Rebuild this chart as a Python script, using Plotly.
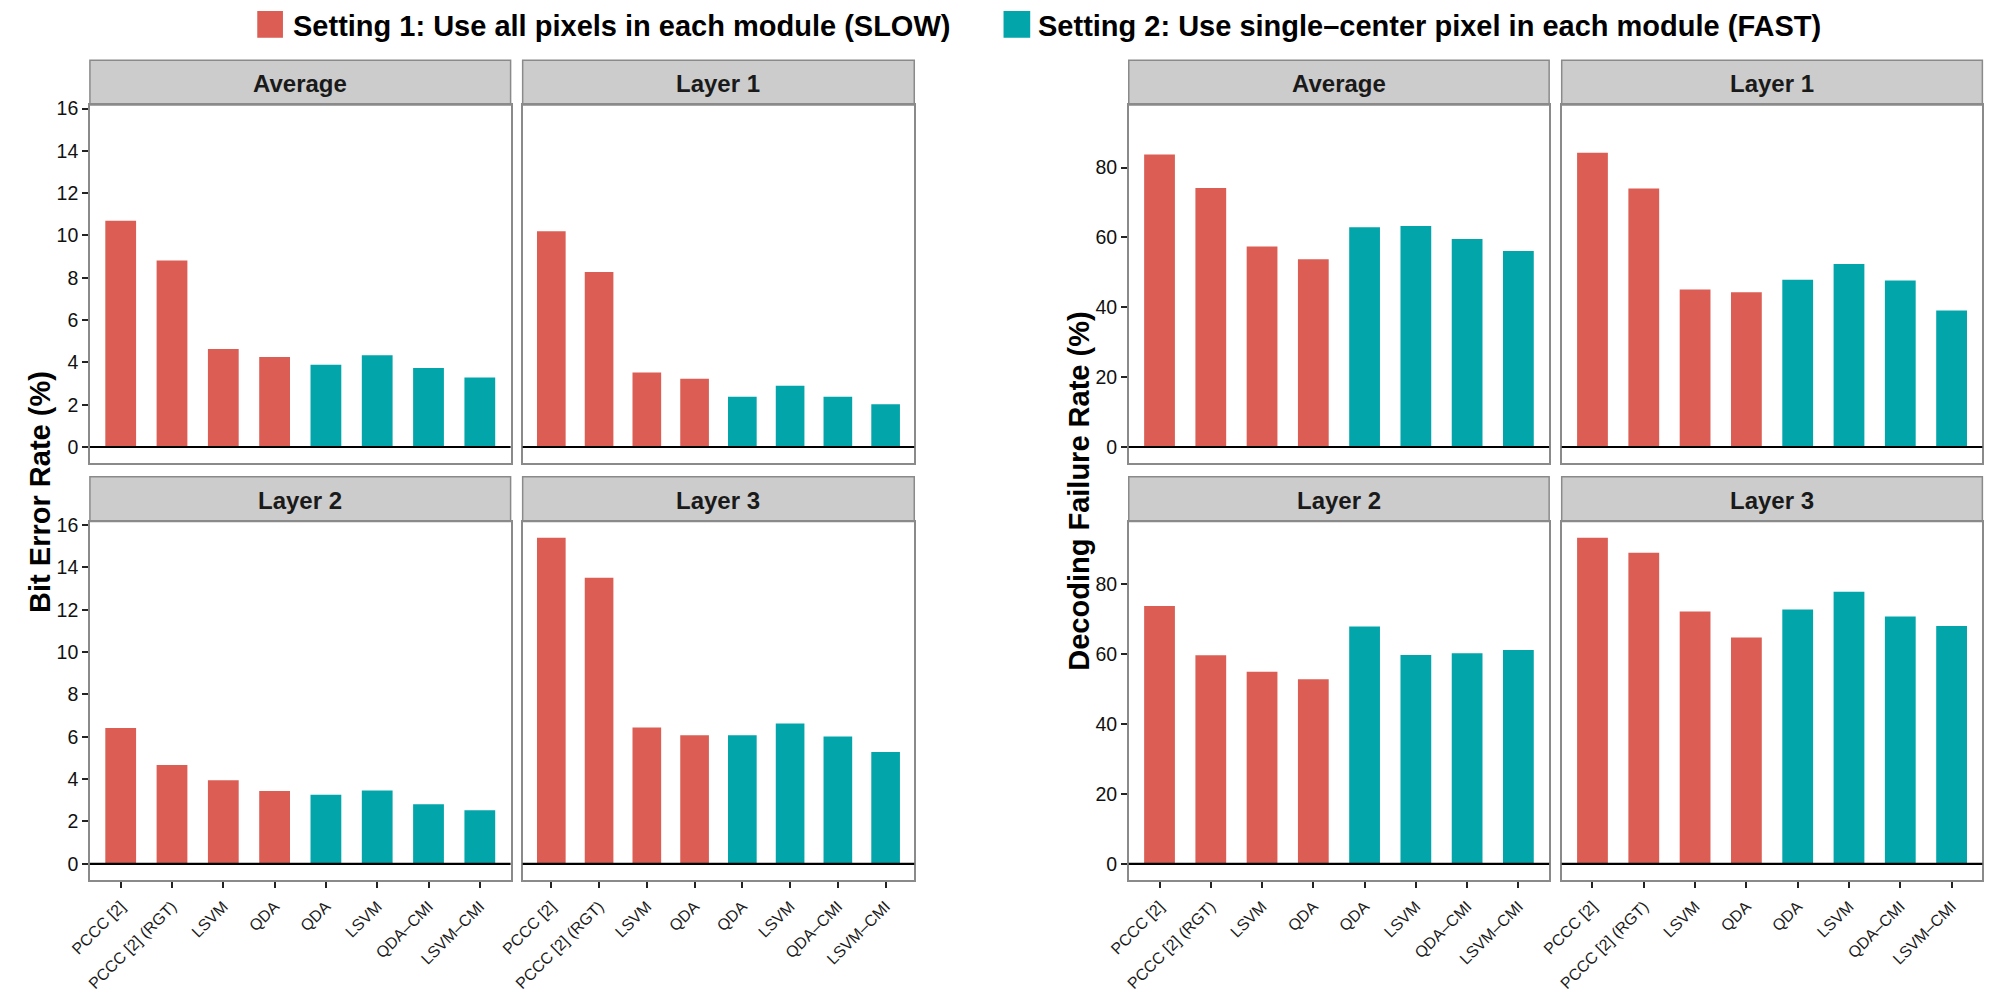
import plotly.graph_objects as go

# ---------------- data ----------------
methods = ["PCCC [2]", "PCCC [2] (RGT)", "LSVM", "QDA", "QDA", "LSVM", "QDA–CMI", "LSVM–CMI"]
positions = [1, 2, 3, 4, 5, 6, 7, 8]
settings = ["Setting 1: Use all pixels in each module (SLOW)",
            "Setting 2: Use single–center pixel in each module (FAST)"]
panel_titles = ["Average", "Layer 1", "Layer 2", "Layer 3"]

ber_average = [10.69, 8.81, 4.63, 4.25, 3.89, 4.34, 3.73, 3.28]
ber_layer1 = [10.20, 8.27, 3.52, 3.23, 2.38, 2.89, 2.38, 2.02]
ber_layer2 = [6.42, 4.67, 3.95, 3.44, 3.26, 3.46, 2.81, 2.53]
ber_layer3 = [15.40, 13.52, 6.44, 6.07, 6.07, 6.63, 6.02, 5.28]

dfr_average = [83.8, 74.2, 57.4, 53.8, 62.9, 63.3, 59.6, 56.1]
dfr_layer1 = [84.3, 74.0, 45.1, 44.3, 47.9, 52.4, 47.7, 39.1]
dfr_layer2 = [73.8, 59.7, 55.0, 52.8, 67.9, 59.8, 60.3, 61.2]
dfr_layer3 = [93.3, 89.0, 72.2, 64.8, 72.8, 77.9, 70.8, 68.1]

ber_ticks = [0, 2, 4, 6, 8, 10, 12, 14, 16]
dfr_ticks = [0, 20, 40, 60, 80]

# ---------------- style / layout ----------------
W, H = 1989, 994
RED = "#DB5D53"
TEAL = "#02A5AA"
BORDER = "#8A8A8A"
STRIP = "#CCCCCC"
FONT = "Liberation Sans, Arial, Helvetica, sans-serif"

cols = [(67.7, 493.3), (505.5, 901.7), (1118.7, 1544.0), (1556.7, 1982.3)]
rows_plot = [(97.7, 459.0), (517.7, 879.2)]
rows_strip = [(52.7, 97.7), (472.5, 517.7)]


def px_x(v):
    return v / W


def px_y(v):
    return 1 - v / H


def expand(vals_lists):
    mx = max(max(v) for v in vals_lists)
    return [-0.05 * mx, mx * 1.05]


ber_range = expand([ber_average, ber_layer1, ber_layer2, ber_layer3])
dfr_range = expand([dfr_average, dfr_layer1, dfr_layer2, dfr_layer3])

# panel: (values, title, col index, row index, yrange, yticks)
panels = [
    (ber_average, panel_titles[0], 0, 0, ber_range, ber_ticks),
    (ber_layer1, panel_titles[1], 1, 0, ber_range, ber_ticks),
    (ber_layer2, panel_titles[2], 0, 1, ber_range, ber_ticks),
    (ber_layer3, panel_titles[3], 1, 1, ber_range, ber_ticks),
    (dfr_average, panel_titles[0], 2, 0, dfr_range, dfr_ticks),
    (dfr_layer1, panel_titles[1], 3, 0, dfr_range, dfr_ticks),
    (dfr_layer2, panel_titles[2], 2, 1, dfr_range, dfr_ticks),
    (dfr_layer3, panel_titles[3], 3, 1, dfr_range, dfr_ticks),
]

fig = go.Figure()
shapes = []
annotations = []
layout_axes = {}

for i, (vals, title, ci, ri, yr, yt) in enumerate(panels, start=1):
    xa = "x" if i == 1 else f"x{i}"
    ya = "y" if i == 1 else f"y{i}"
    fig.add_trace(go.Bar(x=positions[:4], y=vals[:4], xaxis=xa, yaxis=ya,
                         marker=dict(color=RED, line=dict(width=0)), width=0.6,
                         name=settings[0], showlegend=False))
    fig.add_trace(go.Bar(x=positions[4:], y=vals[4:], xaxis=xa, yaxis=ya,
                         marker=dict(color=TEAL, line=dict(width=0)), width=0.6,
                         name=settings[1], showlegend=False))
    x0, x1 = cols[ci]
    y0, y1 = rows_plot[ri]
    bottom = ri == 1
    leftcol = ci in (0, 2)
    layout_axes["xaxis" if i == 1 else f"xaxis{i}"] = dict(
        domain=[px_x(x0), px_x(x1)], anchor=ya, range=[0.4, 8.6],
        tickmode="array", tickvals=positions, ticktext=methods,
        showticklabels=bottom, ticks="outside" if bottom else "",
        ticklen=6, tickwidth=1.8, tickcolor="#222222", tickangle=-45,
        ticklabelstandoff=3,
        tickfont=dict(family=FONT, size=16, color="#1A1A1A"),
        showline=True, mirror=True, linecolor=BORDER, linewidth=1.5,
        showgrid=False, zeroline=False, fixedrange=True)
    layout_axes["yaxis" if i == 1 else f"yaxis{i}"] = dict(
        domain=[px_y(y1), px_y(y0)], anchor=xa, range=yr,
        tickmode="array", tickvals=yt,
        showticklabels=leftcol, ticks="outside" if leftcol else "",
        ticklen=6, tickwidth=1.8, tickcolor="#222222",
        tickfont=dict(family=FONT, size=19.5, color="#111111"),
        showline=True, mirror=True, linecolor=BORDER, linewidth=1.5,
        showgrid=False, zeroline=False, fixedrange=True)
    # zero reference line
    shapes.append(dict(type="line", xref=f"{xa} domain", yref=ya, x0=0, x1=1, y0=0, y1=0,
                       line=dict(color="black", width=2.2), layer="above"))
    # strip
    sy0, sy1 = rows_strip[ri]
    shapes.append(dict(type="rect", xref="paper", yref="paper",
                       x0=px_x(x0), x1=px_x(x1), y0=px_y(sy1), y1=px_y(sy0),
                       fillcolor=STRIP, line=dict(color=BORDER, width=1.5), layer="below"))
    annotations.append(dict(text=f"<b>{title}</b>", xref="paper", yref="paper",
                            x=px_x((x0 + x1) / 2), y=px_y((sy0 + sy1) / 2 + 1),
                            xanchor="center", yanchor="middle", showarrow=False,
                            font=dict(family=FONT, size=24, color="#1A1A1A")))

# axis titles
annotations.append(dict(text="<b>Bit Error Rate (%)</b>", xref="paper", yref="paper",
                        x=px_x(17), y=px_y(488), textangle=-90, showarrow=False,
                        xanchor="center", yanchor="middle",
                        font=dict(family=FONT, size=29, color="black")))
annotations.append(dict(text="<b>Decoding Failure Rate (%)</b>", xref="paper", yref="paper",
                        x=px_x(1068), y=px_y(487), textangle=-90, showarrow=False,
                        xanchor="center", yanchor="middle",
                        font=dict(family=FONT, size=29, color="black")))

# legend (custom, top)
legend_items = [(RED, settings[0], 237, 263, 271), (TEAL, settings[1], 992, 1019, 1025)]
for color, label, kx0, kx1, tx in legend_items:
    shapes.append(dict(type="rect", xref="paper", yref="paper",
                       x0=px_x(kx0), x1=px_x(kx1), y0=px_y(30), y1=px_y(3),
                       fillcolor=color, line=dict(width=0)))
    annotations.append(dict(text=f"<b>{label}</b>", xref="paper", yref="paper",
                            x=px_x(tx), y=px_y(18), xanchor="left", yanchor="middle",
                            showarrow=False,
                            font=dict(family=FONT, size=29, color="black")))

fig.update_layout(
    width=W, height=H, autosize=False,
    margin=dict(l=0, r=0, t=0, b=0, pad=0),
    paper_bgcolor="white", plot_bgcolor="white",
    barmode="overlay", showlegend=False,
    shapes=shapes, annotations=annotations,
    font=dict(family=FONT),
    **layout_axes,
)

fig.write_html("out.html")
